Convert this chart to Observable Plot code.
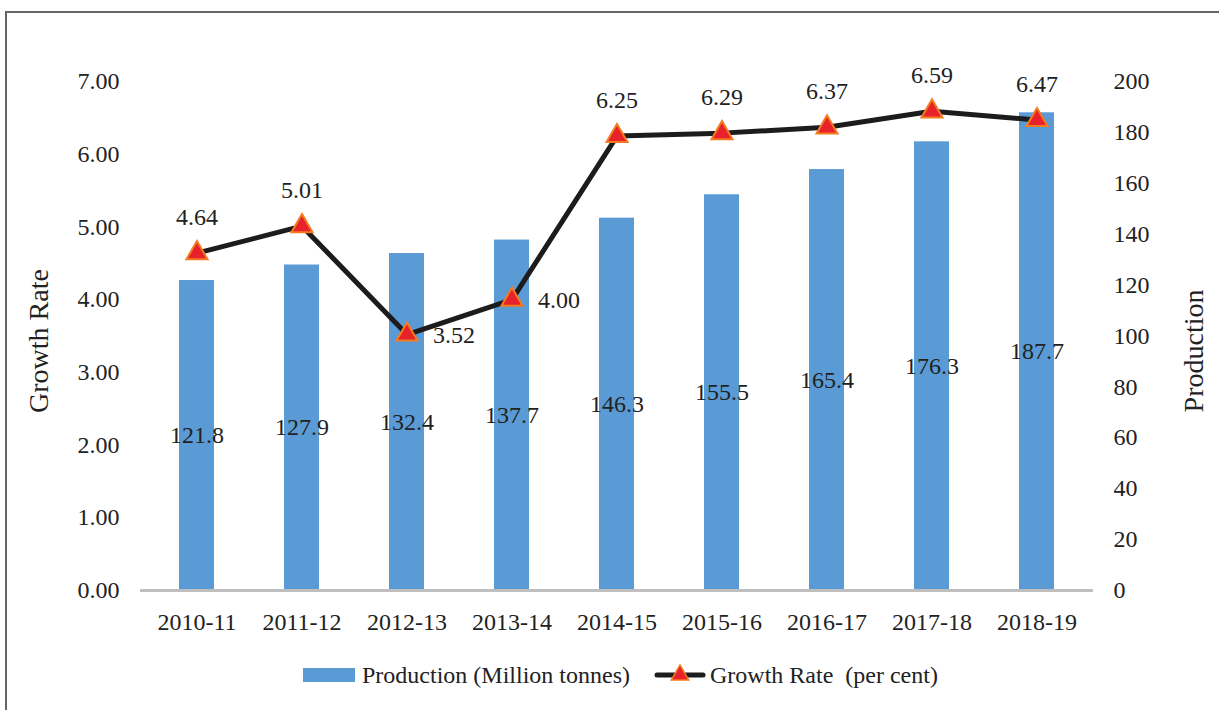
<!DOCTYPE html>
<html>
<head>
<meta charset="utf-8">
<script src="https://cdn.jsdelivr.net/npm/d3@7"></script>
<script src="https://cdn.jsdelivr.net/npm/@observablehq/plot@0.6"></script>
<style>
  html, body { margin: 0; padding: 0; background: #fff; }
  #wrap { position: relative; width: 1219px; height: 710px; overflow: hidden; font-family: "Liberation Serif", "Times New Roman", serif; }
  #frame { position: absolute; left: 5px; top: 11px; width: 1300px; height: 800px; border-top: 2px solid #666; border-left: 2px solid #666; box-sizing: border-box; pointer-events: none; }
  #chart { position: absolute; left: 0; top: 0; }
  #chart svg text { font-family: "Liberation Serif", "Times New Roman", serif; }
  #legend { position: absolute; left: 0; top: 645px; width: 1219px; height: 65px; font-size: 24px; color: #222; }
  .sw { position: absolute; }
  .lt { position: absolute; white-space: pre; line-height: 1; }
</style>
</head>
<body>
<div id="wrap">
  <div id="chart"></div>
  <div id="legend"></div>
  <div id="frame"></div>
</div>
<script>
const years = ["2010-11","2011-12","2012-13","2013-14","2014-15","2015-16","2016-17","2017-18","2018-19"];
const production = [121.8,127.9,132.4,137.7,146.3,155.5,165.4,176.3,187.7];
const growth = [4.64,5.01,3.52,4.00,6.25,6.29,6.37,6.59,6.47];
const growthTicks = [0,1,2,3,4,5,6,7];
const productionTicks = [0,20,40,60,80,100,120,140,160,180,200];
const labelRightYears = ["2012-13","2013-14"];
const seriesNames = ["Production (Million tonnes)", "Growth Rate  (per cent)"];
const axisTitles = ["Growth Rate", "Production"];

const growthMax = 7, productionMax = 200;
const k = growthMax / productionMax; // production -> growth-axis units

const data = years.map((year, i) => ({year, production: production[i], growth: growth[i]}));

const FONT = "'Liberation Serif', 'Times New Roman', serif";
const FS = 24;
const barColor = "#5B9BD5";
const lineColor = "#1c1c1c";
const triFill = "#E8222A";
const triStroke = "#F47B20";
const txt = {fontFamily: FONT, fontSize: FS, fill: "#222"};

const chart = Plot.plot({
  width: 1219,
  height: 645,
  marginLeft: 140,
  marginRight: 126,
  marginTop: 81,
  marginBottom: 55,
  style: {fontFamily: FONT, fontSize: FS + "px", color: "#222", background: "transparent"},
  x: {domain: years, paddingInner: 0.67, paddingOuter: 0.335, label: null},
  y: {domain: [0, growthMax], label: null},
  marks: [
    Plot.barY(data, {x: "year", y: d => d.production * k, fill: barColor}),
    Plot.ruleY([0], {stroke: "#BFBFBF", strokeWidth: 3}),
    Plot.axisX({tickSize: 0, tickPadding: 22, label: null, fontFamily: FONT, fontSize: FS, fontVariant: "normal"}),
    Plot.axisY({anchor: "left", ticks: growthTicks, tickFormat: d => d.toFixed(2), tickSize: 0, tickPadding: 21, label: null, fontFamily: FONT, fontSize: FS, fontVariant: "normal"}),
    Plot.axisY({anchor: "right", ticks: productionTicks.map(v => v * k), tickFormat: v => String(Math.round(v / k)), tickSize: 0, tickPadding: 20, label: null, fontFamily: FONT, fontSize: FS, fontVariant: "normal"}),
    Plot.text(data, {x: "year", y: d => d.production * k / 2, text: d => d.production.toFixed(1), ...txt}),
    Plot.line(data, {x: "year", y: "growth", stroke: lineColor, strokeWidth: 5, strokeLinejoin: "round"}),
    Plot.dot(data, {x: "year", y: "growth", symbol: "triangle", r: 7.8, fill: triFill, stroke: triStroke, strokeWidth: 2}),
    Plot.text(data.filter(d => !labelRightYears.includes(d.year)), {x: "year", y: "growth", text: d => d.growth.toFixed(2), dy: -36, ...txt}),
    Plot.text(data.filter(d => labelRightYears.includes(d.year)), {x: "year", y: "growth", text: d => d.growth.toFixed(2), dx: 26, dy: 1, textAnchor: "start", ...txt}),
    Plot.text([axisTitles[0]], {frameAnchor: "left", textAnchor: "middle", dx: -101, dy: 5, rotate: -90, ...txt, fontSize: 28}),
    Plot.text([axisTitles[1]], {frameAnchor: "right", textAnchor: "middle", dx: 101, dy: 15, rotate: -90, ...txt, fontSize: 28})
  ]
});
document.getElementById("chart").appendChild(chart);

// Legend
const legend = document.getElementById("legend");
const sw = document.createElement("div");
sw.className = "sw";
Object.assign(sw.style, {left: "303px", top: "23px", width: "52px", height: "14px", background: barColor});
legend.appendChild(sw);
const t1 = document.createElement("div");
t1.className = "lt"; t1.textContent = seriesNames[0];
Object.assign(t1.style, {left: "362px", top: "18px"});
legend.appendChild(t1);

const ns = "http://www.w3.org/2000/svg";
const ls = document.createElementNS(ns, "svg");
ls.setAttribute("width", "54"); ls.setAttribute("height", "30");
ls.style.position = "absolute"; ls.style.left = "653px"; ls.style.top = "15px";
const ln = document.createElementNS(ns, "line");
ln.setAttribute("x1", "4"); ln.setAttribute("x2", "50"); ln.setAttribute("y1", "15"); ln.setAttribute("y2", "15");
ln.setAttribute("stroke", lineColor); ln.setAttribute("stroke-width", "5"); ln.setAttribute("stroke-linecap", "round");
ls.appendChild(ln);
const tri = document.createElementNS(ns, "path");
tri.setAttribute("d", d3.symbol(d3.symbolTriangle, 130)());
tri.setAttribute("transform", "translate(27,15)");
tri.setAttribute("fill", triFill); tri.setAttribute("stroke", triStroke); tri.setAttribute("stroke-width", "1.5");
ls.appendChild(tri);
legend.appendChild(ls);

const t2 = document.createElement("div");
t2.className = "lt"; t2.textContent = seriesNames[1];
Object.assign(t2.style, {left: "710px", top: "18px"});
legend.appendChild(t2);
</script>
</body>
</html>
